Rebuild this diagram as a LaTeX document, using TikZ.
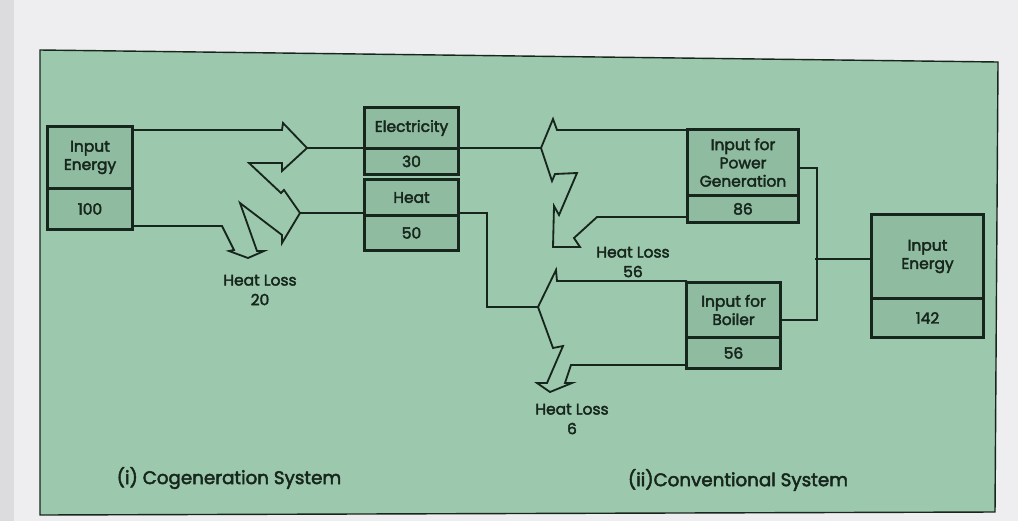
\documentclass[tikz,border=0pt]{standalone}
\usepackage{fontspec}
\setmainfont{Poppins}
\newfontfamily\diagfont{Poppins}[FakeBold=2.5]
\definecolor{panel}{HTML}{9CC8AD}
\definecolor{cellfill}{HTML}{8FBBA0}
\definecolor{ink}{HTML}{17261C}
\definecolor{page}{HTML}{EEEEF1}
\definecolor{edge}{HTML}{DCDCDF}

\begin{document}
\begin{tikzpicture}[x=0.025cm, y=-0.025cm,
    flow/.style={draw=ink, line width=1.3pt, line join=miter},
    cell/.style={draw=ink, fill=cellfill, line width=1pt, inner sep=0pt, align=center, text=ink, font=\diagfont\fontsize{11}{13}\selectfont},
    frame/.style={draw=ink, line width=2.2pt},
    lbl/.style={align=center, inner sep=0pt, text=ink, font=\diagfont\fontsize{11}{14}\selectfont},
    title/.style={inner sep=0pt, text=ink, font=\diagfont\fontsize{13}{15}\selectfont}]
    \useasboundingbox (0,0) rectangle (1018,521);
    \fill[page] (0,0) rectangle (1018,521);
    \fill[edge] (0,0) rectangle (14,521);
    \filldraw[fill=panel, draw=ink, line width=1pt] (40,50) -- (998,62) -- (995,512) -- (40,515) -- cycle;

    % arrow tips
    \coordinate (eTipL) at (307,148);
    \coordinate (eTipR) at (541,148);
    \coordinate (hTipL) at (300,213);
    \coordinate (hTipR) at (538,307);

    % cogeneration bands
    \draw[flow] (132,130) -- (282,130) -- (283,123) -- (eTipL) -- (282,171) -- (282,163) -- (249,163)
        -- (281,193) -- (284,190) -- (hTipL) -- (282,243) -- (282,235) -- (240,203)
        -- (257,251) -- (264,251) -- (248,258) -- (229,251) -- (234,250) -- (222,226) -- (132,226);

    % conventional bands
    \draw[flow] (688,130) -- (557,130) -- (553,119) -- (eTipR) -- (552,181) -- (555,174) -- (577,173)
        -- (559,215) -- (554,206) -- (553,247) -- (580,247) -- (574,238) -- (597,217) -- (688,217);
    \draw[flow] (687,281) -- (557,281) -- (556,270) -- (hTipR) -- (553,348) -- (563,346)
        -- (547,383) -- (537,383) -- (550,392) -- (572,383) -- (565,383) -- (571,365) -- (687,365);

    % through lines
    \draw[flow] (eTipL) -- (eTipR);
    \draw[flow] (hTipL) -- ++(187,0) |- (hTipR);

    % boxes
    \node[cell, minimum width=2.1cm, minimum height=1.525cm] (inLt) at (90,157.5) {Input\\Energy};
    \node[cell, minimum width=2.1cm, minimum height=0.975cm, anchor=north] (inLv) at (inLt.south) {100};
    \draw[frame] (inLt.north west) rectangle (inLv.south east);

    \node[cell, minimum width=2.325cm, minimum height=1.0cm] (elt) at (411.5,128) {Electricity};
    \node[cell, minimum width=2.325cm, minimum height=0.6cm, anchor=north] (elv) at (elt.south) {30};
    \draw[frame] (elt.north west) rectangle (elv.south east);

    \node[cell, minimum width=2.325cm, minimum height=0.875cm] (htt) at (411.5,197.5) {Heat};
    \node[cell, minimum width=2.325cm, minimum height=0.825cm, anchor=north] (htv) at (htt.south) {50};
    \draw[frame] (htt.north west) rectangle (htv.south east);

    \node[cell, minimum width=2.75cm, minimum height=1.625cm] (pgt) at (743,162.5) {Input for\\Power\\Generation};
    \node[cell, minimum width=2.75cm, minimum height=0.625cm, anchor=north] (pgv) at (pgt.south) {86};
    \draw[frame] (pgt.north west) rectangle (pgv.south east);

    \node[cell, minimum width=2.325cm, minimum height=1.35cm] (blt) at (733.5,310) {Input for\\Boiler};
    \node[cell, minimum width=2.325cm, minimum height=0.725cm, anchor=north] (blv) at (blt.south) {56};
    \draw[frame] (blt.north west) rectangle (blv.south east);

    \node[cell, minimum width=2.775cm, minimum height=2.075cm] (inRt) at (927.5,256.5) {Input\\Energy};
    \node[cell, minimum width=2.775cm, minimum height=0.925cm, anchor=north] (inRv) at (inRt.south) {142};
    \draw[frame] (inRt.north west) rectangle (inRv.south east);

    % supply to both inputs
    \draw[flow] ([yshift=-0.14cm]pgt.east) -- ++(18,0) |- ([yshift=-0.25cm]blt.east);
    \draw[flow] ([yshift=-0.06cm]inRt.west) -- ++(-56,0);

    % labels
    \node[lbl] (hl20) at (260,290) {Heat Loss\\20};
    \node[lbl] (hl56) at (633,262) {Heat Loss\\56};
    \node[lbl] (hl6) at (572,419) {Heat Loss\\6};
    \node[title] (cogen) at (229,478) {(i) Cogeneration System};
    \node[title] (conv) at (738,480) {(ii)Conventional System};
\end{tikzpicture}
\end{document}
